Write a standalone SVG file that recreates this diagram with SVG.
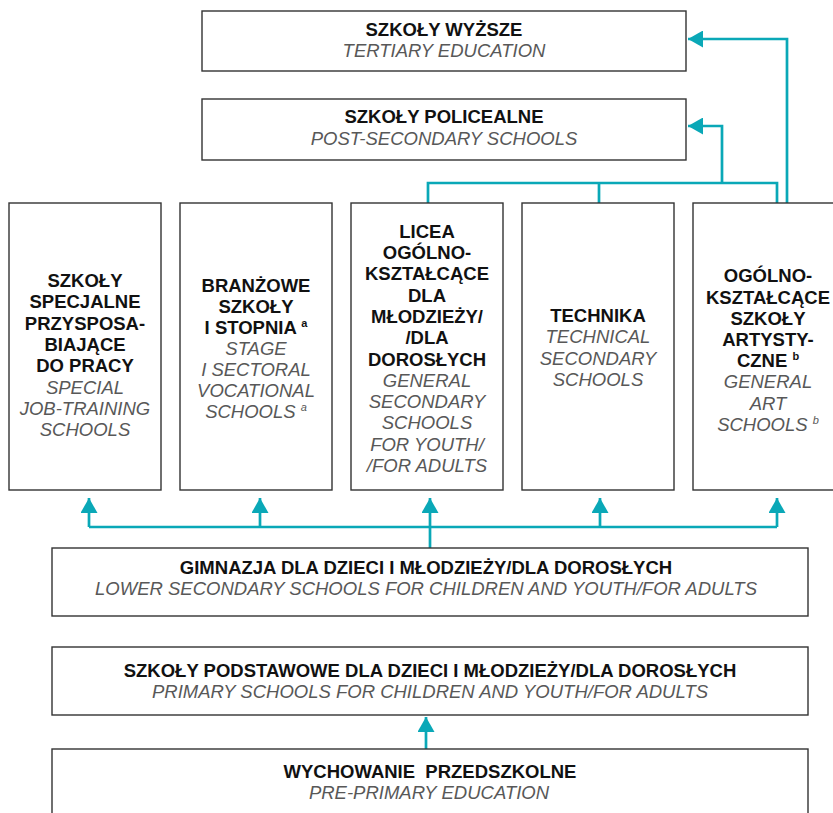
<svg xmlns="http://www.w3.org/2000/svg" width="833" height="813" viewBox="0 0 833 813">
<defs>
<style>
.box{fill:#fff;stroke:#333;stroke-width:1.4}
.b{font-family:"Liberation Sans",Arial,sans-serif;font-weight:bold;font-size:18.5px;fill:#111;text-anchor:middle}
.i{font-family:"Liberation Sans",Arial,sans-serif;font-style:italic;font-size:18.5px;fill:#585858;text-anchor:middle}
.sup{font-size:11px}
.con{fill:none;stroke:#0aa8b7;stroke-width:2.7}
.pre{white-space:pre}
</style>
<marker id="ah" markerUnits="userSpaceOnUse" markerWidth="16" markerHeight="17" refX="15" refY="8.5" orient="auto" viewBox="0 0 16 17">
<path d="M0,0 L15,8.5 L0,17 Z" fill="#0aa8b7"/>
</marker>
</defs>
<rect width="833" height="813" fill="#fff"/>

<g id="connectors">
<path class="con" d="M787,203 V39 H688" marker-end="url(#ah)"/>
<path class="con" d="M722,183 V126 H688" marker-end="url(#ah)"/>
<path class="con" d="M428,203 V183 H777 V203 M599,183 V203"/>
<path class="con" d="M89,527 H777"/>
<path class="con" d="M89,527 V498" marker-end="url(#ah)"/>
<path class="con" d="M260,527 V498" marker-end="url(#ah)"/>
<path class="con" d="M430,548 V498" marker-end="url(#ah)"/>
<path class="con" d="M600,527 V498" marker-end="url(#ah)"/>
<path class="con" d="M777,527 V498" marker-end="url(#ah)"/>
<path class="con" d="M426,749 V717" marker-end="url(#ah)"/>
</g>

<g id="tertiary">
<rect class="box" x="202" y="11" width="484" height="60"/>
<text class="b" x="444" y="36">SZKOŁY WYŻSZE</text>
<text class="i" x="444" y="57">TERTIARY EDUCATION</text>
</g>

<g id="post-secondary">
<rect class="box" x="202" y="99" width="484" height="61"/>
<text class="b" x="444" y="123">SZKOŁY POLICEALNE</text>
<text class="i" x="444" y="145">POST-SECONDARY SCHOOLS</text>
</g>

<g id="special-job-training">
<rect class="box" x="9" y="203" width="152" height="287"/>
<text class="b" x="85" y="287">SZKOŁY</text>
<text class="b" x="85" y="308.3">SPECJALNE</text>
<text class="b" x="85" y="329.6">PRZYSPOSA-</text>
<text class="b" x="85" y="350.9">BIAJĄCE</text>
<text class="b" x="85" y="372.2">DO PRACY</text>
<text class="i" x="85" y="393.5">SPECIAL</text>
<text class="i" x="85" y="414.8">JOB-TRAINING</text>
<text class="i" x="85" y="436.1">SCHOOLS</text>
</g>

<g id="sectoral-vocational">
<rect class="box" x="180" y="203" width="152" height="287"/>
<text class="b" x="256" y="291.5">BRANŻOWE</text>
<text class="b" x="256" y="312.5">SZKOŁY</text>
<text class="b" x="256" y="333.5">I STOPNIA <tspan class="sup" dy="-7">a</tspan></text>
<text class="i" x="256" y="354.5">STAGE</text>
<text class="i" x="256" y="375.5">I SECTORAL</text>
<text class="i" x="256" y="396.5">VOCATIONAL</text>
<text class="i" x="256" y="417.5">SCHOOLS <tspan class="sup" dy="-7">a</tspan></text>
</g>

<g id="general-secondary">
<rect class="box" x="351" y="203" width="152" height="287"/>
<text class="b" x="427" y="237.7">LICEA</text>
<text class="b" x="427" y="259">OGÓLNO-</text>
<text class="b" x="427" y="280.3">KSZTAŁCĄCE</text>
<text class="b" x="427" y="301.6">DLA</text>
<text class="b" x="427" y="322.9">MŁODZIEŻY/</text>
<text class="b" x="427" y="344.2">/DLA</text>
<text class="b" x="427" y="365.5">DOROSŁYCH</text>
<text class="i" x="427" y="386.8">GENERAL</text>
<text class="i" x="427" y="408.1">SECONDARY</text>
<text class="i" x="427" y="429.4">SCHOOLS</text>
<text class="i" x="427" y="450.7">FOR YOUTH/</text>
<text class="i" x="427" y="472">/FOR ADULTS</text>
</g>

<g id="technical-secondary">
<rect class="box" x="522" y="203" width="152" height="287"/>
<text class="b" x="598" y="322.3">TECHNIKA</text>
<text class="i" x="598" y="343.4">TECHNICAL</text>
<text class="i" x="598" y="364.5">SECONDARY</text>
<text class="i" x="598" y="385.6">SCHOOLS</text>
</g>

<g id="general-art">
<rect class="box" x="693" y="203" width="152" height="287"/>
<text class="b" x="768" y="282.3">OGÓLNO-</text>
<text class="b" x="768" y="303.5">KSZTAŁCĄCE</text>
<text class="b" x="768" y="324.7">SZKOŁY</text>
<text class="b" x="768" y="345.9">ARTYSTY-</text>
<text class="b" x="768" y="367.1">CZNE <tspan class="sup" dy="-7">b</tspan></text>
<text class="i" x="768" y="388.3">GENERAL</text>
<text class="i" x="768" y="409.5">ART</text>
<text class="i" x="768" y="430.7">SCHOOLS <tspan class="sup" dy="-7">b</tspan></text>
</g>

<g id="lower-secondary">
<rect class="box" x="52" y="548" width="756" height="68"/>
<text class="b" x="426" y="574">GIMNAZJA DLA DZIECI I MŁODZIEŻY/DLA DOROSŁYCH</text>
<text class="i" x="426" y="595">LOWER SECONDARY SCHOOLS FOR CHILDREN AND YOUTH/FOR ADULTS</text>
</g>

<g id="primary">
<rect class="box" x="52" y="647" width="756" height="68"/>
<text class="b" x="430" y="677">SZKOŁY PODSTAWOWE DLA DZIECI I MŁODZIEŻY/DLA DOROSŁYCH</text>
<text class="i" x="430" y="698">PRIMARY SCHOOLS FOR CHILDREN AND YOUTH/FOR ADULTS</text>
</g>

<g id="pre-primary">
<rect class="box" x="52" y="749" width="756" height="80"/>
<text class="b pre" x="430" y="778">WYCHOWANIE  PRZEDSZKOLNE</text>
<text class="i" x="429" y="799">PRE-PRIMARY EDUCATION</text>
</g>
</svg>
